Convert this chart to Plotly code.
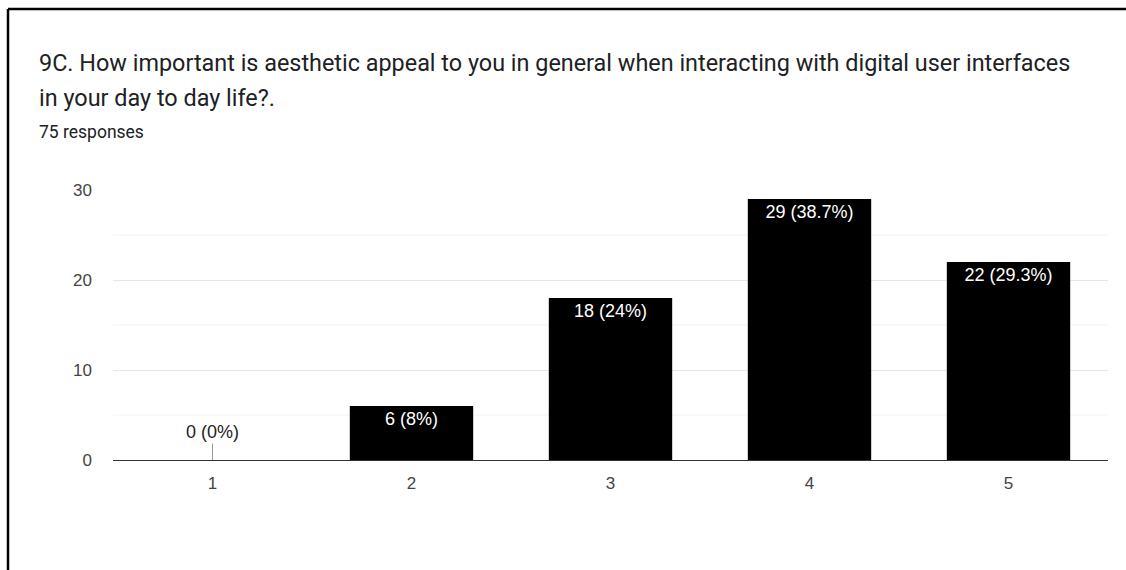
import plotly.graph_objects as go

# Survey responses per rating
ratings = ["1", "2", "3", "4", "5"]
counts = [0, 6, 18, 29, 22]
percent_labels = ["0%", "8%", "24%", "38.7%", "29.3%"]
y_ticks = [0, 10, 20, 30]
minor_ticks = [5, 15, 25]

title_line1 = "9C. How important is aesthetic appeal to you in general when interacting with digital user interfaces"
title_line2 = "in your day to day life?."
subtitle = "75 responses"

W, H = 1126, 570
L, R, T, B = 113, 18, 190, 110
pw, ph = W - L - R, H - T - B


def px_x(px):
    return (px - L) / pw


def px_y(py):
    return (H - B - py) / ph


labels = [f"{c} ({p})" for c, p in zip(counts, percent_labels)]
chart_font = "Arial, Liberation Sans"

fig = go.Figure()
fig.add_trace(go.Bar(
    x=ratings,
    y=counts,
    marker=dict(color="#000000", line=dict(width=0)),
    width=0.62,
    text=[lab if c > 0 else "" for lab, c in zip(labels, counts)],
    textposition="inside",
    insidetextanchor="end",
    textangle=0,
    constraintext="none",
    textfont=dict(family=chart_font, size=18, color="#ffffff"),
    hoverinfo="skip",
))

# Zero-height bars get their label on a short leader line
for i, (c, lab) in enumerate(zip(counts, labels)):
    if c == 0:
        fig.add_annotation(
            x=i, y=c, xref="x", yref="y",
            text=lab, showarrow=True, arrowhead=0, arrowwidth=1,
            arrowcolor="#999999", ax=0, ay=-28, standoff=0,
            font=dict(family=chart_font, size=18, color="#222222"),
        )

# Lighter minor gridlines
for v in minor_ticks:
    fig.add_shape(type="line", xref="paper", yref="y", x0=0, x1=1, y0=v, y1=v,
                  line=dict(color="#f3f3f3", width=1), layer="below")

# Title block
fig.add_annotation(x=px_x(37), y=px_y(63), xref="paper", yref="paper",
                   text=title_line1, showarrow=False, xanchor="left", yanchor="middle",
                   font=dict(family="Roboto", size=23.4, color="#202124"))
fig.add_annotation(x=px_x(37), y=px_y(98), xref="paper", yref="paper",
                   text=title_line2, showarrow=False, xanchor="left", yanchor="middle",
                   font=dict(family="Roboto", size=23.4, color="#202124"))
fig.add_annotation(x=px_x(37), y=px_y(132), xref="paper", yref="paper",
                   text=subtitle, showarrow=False, xanchor="left", yanchor="middle",
                   font=dict(family="Roboto", size=17.5, color="#202124"))

# Frame edges along the top and left
fig.add_shape(type="line", xref="paper", yref="paper",
              x0=px_x(8), x1=px_x(1130), y0=px_y(9), y1=px_y(9),
              line=dict(color="#000000", width=2.5))
fig.add_shape(type="line", xref="paper", yref="paper",
              x0=px_x(8), x1=px_x(8), y0=px_y(9), y1=px_y(575),
              line=dict(color="#000000", width=2.5))

fig.update_layout(
    width=W, height=H,
    margin=dict(l=L, r=R, t=T, b=B, pad=0),
    paper_bgcolor="#ffffff",
    plot_bgcolor="#ffffff",
    showlegend=False,
    bargap=0.38,
    xaxis=dict(
        type="category",
        showgrid=False,
        showline=True, linecolor="#333333", linewidth=1,
        ticks="", ticklabelstandoff=8,
        tickfont=dict(family=chart_font, size=17, color="#444444"),
        fixedrange=True,
    ),
    yaxis=dict(
        range=[0, 30],
        tickvals=y_ticks,
        showgrid=True, gridcolor="#e6e6e6", gridwidth=1,
        zeroline=False,
        showline=False,
        ticks="", ticklabelstandoff=20,
        tickfont=dict(family=chart_font, size=17, color="#444444"),
        fixedrange=True,
    ),
)

fig.write_html("out.html")
